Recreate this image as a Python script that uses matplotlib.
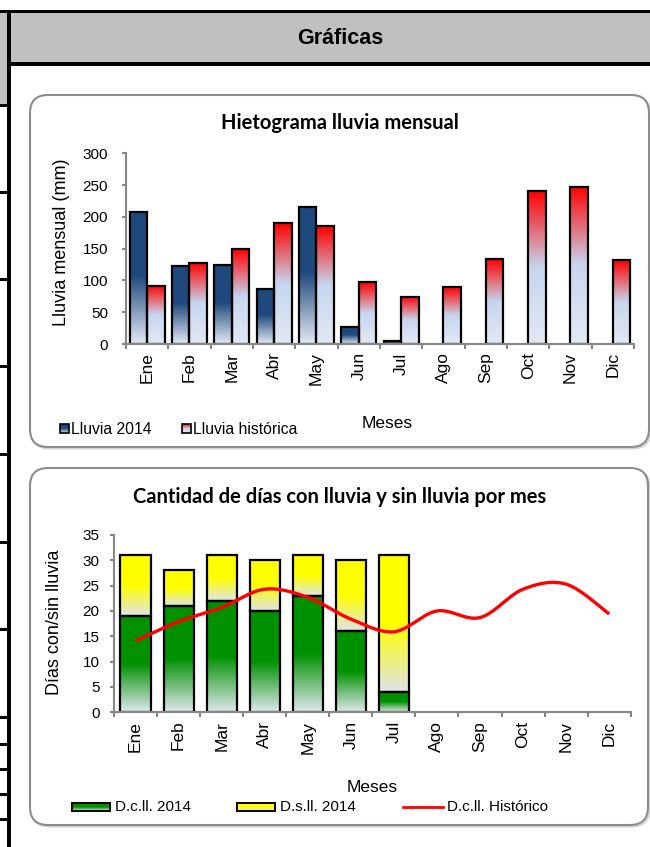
import numpy as np
import matplotlib
matplotlib.use("Agg")
import matplotlib.pyplot as plt
from matplotlib.patches import FancyBboxPatch, Rectangle
from matplotlib.colors import LinearSegmentedColormap

nan = np.nan
# ---------------- data ----------------
meses = ['Ene', 'Feb', 'Mar', 'Abr', 'May', 'Jun', 'Jul', 'Ago', 'Sep', 'Oct', 'Nov', 'Dic']
lluvia_2014 = [207, 123, 125, 87, 216, 27, 4, nan, nan, nan, nan, nan]
lluvia_historica = [92, 128, 149, 190, 185, 97, 74, 89, 133, 240, 247, 132]
dias_con_lluvia_2014 = [19, 21, 22, 20, 23, 16, 4, nan, nan, nan, nan, nan]
dias_sin_lluvia_2014 = [12, 7, 9, 10, 8, 14, 27, nan, nan, nan, nan, nan]
dias_con_lluvia_hist = [14.1, 17.9, 20.7, 24.3, 22.7, 18.4, 15.9, 20.0, 18.7, 24.3, 25.3, 19.4]

header_title = 'Gráficas'
title_top = 'Hietograma lluvia mensual'
title_bot = 'Cantidad de días con lluvia y sin lluvia por mes'

plt.rcParams['font.family'] = ['Liberation Sans', 'DejaVu Sans']

W, H = 650, 847
fig = plt.figure(figsize=(W / 100, H / 100), dpi=100)
fig.patch.set_facecolor('white')

# overlay in pixel coordinates
ov = fig.add_axes([0, 0, 1, 1], zorder=0)
ov.set_xlim(0, W)
ov.set_ylim(H, 0)
ov.axis('off')

# header frame
ov.add_patch(Rectangle((10.7, 13.3), W - 10.7, 48.4, facecolor='#c0c0c0', edgecolor='none'))
ov.add_patch(Rectangle((0, 13.3), 6.7, 94, facecolor='#c0c0c0', edgecolor='none'))
ov.add_patch(Rectangle((0, 10), W, 3.4, facecolor='black', edgecolor='none'))
ov.add_patch(Rectangle((10.7, 61.7), W - 10.7, 4, facecolor='black', edgecolor='none'))
ov.add_patch(Rectangle((6.7, 10), 4, H - 10, facecolor='black', edgecolor='none'))
for yy in [106, 193, 280, 367, 455, 543, 630, 718, 745, 770, 795, 820]:
    ov.add_patch(Rectangle((0, yy - 1.5), 7, 3, facecolor='black', edgecolor='none'))
ov.text(340, 38, header_title, ha='center', va='center', fontsize=15.5, fontweight='bold')

# rounded chart boxes
for (bx, by, bw, bh) in [(30, 95, 619, 352), (30, 468, 618, 357)]:
    ov.add_patch(FancyBboxPatch((bx + 1.5, by + 1.5), bw, bh,
                                boxstyle='round,pad=0,rounding_size=18',
                                facecolor='none', edgecolor='#d4d4d4', lw=1.5))
    ov.add_patch(FancyBboxPatch((bx, by), bw, bh,
                                boxstyle='round,pad=0,rounding_size=18',
                                facecolor='white', edgecolor='#8c8c8c', lw=1.5))

# colormaps
c2014 = LinearSegmentedColormap.from_list('c2014', [(0, '#e3eaf5'), (0.52, '#1f497d'), (1, '#1f497d')])
chist = LinearSegmentedColormap.from_list('chist', [(0, '#e2e9f4'), (0.5, '#c6d6ee'), (1, '#ff0000')])
cgreen = LinearSegmentedColormap.from_list('cgreen', [(0, '#e0e8ee'), (0.5, '#009100'), (1, '#009100')])
cyellow = LinearSegmentedColormap.from_list('cyellow', [(0, '#dfe4ea'), (0.5, '#ffff00'), (1, '#ffff00')])

grad = np.linspace(0, 1, 256).reshape(-1, 1)


def grad_fill(ax, patches, cmap):
    for p in patches:
        x0, y0, w, h = p.get_x(), p.get_y(), p.get_width(), p.get_height()
        if not (np.isfinite(h) and np.isfinite(y0)) or h <= 0:
            continue
        ax.imshow(grad, extent=(x0, x0 + w, y0, y0 + h), origin='lower', cmap=cmap,
                  aspect='auto', zorder=1, interpolation='bilinear')


def style_axes(ax, n, ymax, ystep, ypad):
    ax.set_facecolor('none')
    for s in ['top', 'right']:
        ax.spines[s].set_visible(False)
    for s in ['left', 'bottom']:
        ax.spines[s].set_color('#868686')
        ax.spines[s].set_linewidth(1.5)
    ax.set_xlim(-0.5, n - 0.5)
    ax.set_ylim(0, ymax)
    ax.set_yticks(np.arange(0, ymax + 1, ystep))
    ax.set_xticks(np.arange(n + 1) - 0.5)
    ax.set_xticklabels([])
    ax.set_xticks(np.arange(n), minor=True)
    ax.set_xticklabels(meses, minor=True, rotation=90, fontsize=12.5)
    ax.tick_params(axis='x', which='major', direction='out', length=3.5, width=1.5, color='#868686')
    ax.tick_params(axis='x', which='minor', length=0, pad=6)
    ax.tick_params(axis='y', direction='out', length=3, width=1.5, color='#868686', labelsize=11, pad=ypad)


def smooth_curve(xs, ys, n=40):
    xs = np.asarray(xs, float)
    ys = np.asarray(ys, float)
    px = np.concatenate([[xs[0]], xs, [xs[-1]]])
    py = np.concatenate([[ys[0]], ys, [ys[-1]]])
    t = np.linspace(0, 1, n)
    ox, oy = [], []
    for i in range(1, len(xs)):
        p0 = np.array([px[i - 1], py[i - 1]])
        p1 = np.array([px[i], py[i]])
        p2 = np.array([px[i + 1], py[i + 1]])
        p3 = np.array([px[i + 2], py[i + 2]])
        c1 = p1 + (p2 - p0) / 6
        c2 = p2 - (p3 - p1) / 6
        b = ((1 - t) ** 3)[:, None] * p1 + (3 * (1 - t) ** 2 * t)[:, None] * c1 + \
            (3 * (1 - t) * t ** 2)[:, None] * c2 + (t ** 3)[:, None] * p2
        ox.extend(b[:, 0])
        oy.extend(b[:, 1])
    return np.array(ox), np.array(oy)


x = np.arange(len(meses))

# ---------------- top chart ----------------
L, R, B, T = 126, 634, 344, 153.3
ax1 = fig.add_axes([L / W, 1 - B / H, (R - L) / W, (B - T) / H], zorder=2)
bw = 0.415
b1 = ax1.bar(x - bw / 2, lluvia_2014, bw, facecolor='none', edgecolor='black', lw=1.6, zorder=2)
b2 = ax1.bar(x + bw / 2, lluvia_historica, bw, facecolor='none', edgecolor='black', lw=1.6, zorder=2)
grad_fill(ax1, b1.patches, c2014)
grad_fill(ax1, b2.patches, chist)
style_axes(ax1, len(meses), 300, 50, 10)
ax1.set_ylabel('Lluvia mensual (mm)', fontsize=13)
ax1.yaxis.set_label_coords((62 - L) / (R - L), 0.535)
ax1.yaxis.label.set_va('center')
ax1.set_xlabel('Meses', fontsize=12.5)
ax1.xaxis.set_label_coords((387 - L) / (R - L), (B - 423) / (B - T))
ax1.xaxis.label.set_va('center')

ov.text(340, 123, title_top, ha='center', va='center', fontsize=14.5, fontweight='bold', family=['Lato', 'DejaVu Sans'])

# top legend
for (lx, cmap, lab) in [(60, c2014, 'Lluvia 2014'), (182, chist, 'Lluvia histórica')]:
    ov.imshow(grad, extent=(lx, lx + 9, 433, 424), origin='lower', cmap=cmap, aspect='auto', zorder=3)
    ov.add_patch(Rectangle((lx, 424), 9, 9, facecolor='none', edgecolor='black', lw=1.2, zorder=4))
    ov.text(lx + 11, 429, lab, ha='left', va='center', fontsize=11.3)

# ---------------- bottom chart ----------------
L2, R2, B2, T2 = 114, 630.7, 712.3, 535
ax2 = fig.add_axes([L2 / W, 1 - B2 / H, (R2 - L2) / W, (B2 - T2) / H], zorder=2)
bw2 = 0.7
g = ax2.bar(x, dias_con_lluvia_2014, bw2, facecolor='none', edgecolor='black', lw=1.6, zorder=2)
yb = ax2.bar(x, dias_sin_lluvia_2014, bw2, bottom=dias_con_lluvia_2014, facecolor='none',
             edgecolor='black', lw=1.6, zorder=2)
grad_fill(ax2, g.patches, cgreen)
grad_fill(ax2, yb.patches, cyellow)
sx, sy = smooth_curve(x, dias_con_lluvia_hist)
ax2.plot(sx, sy, color='#ff0000', lw=2.4, zorder=3, solid_capstyle='butt')
style_axes(ax2, len(meses), 35, 5, 7.5)
ax2.set_ylabel('Días con/sin lluvia', fontsize=13)
ax2.yaxis.set_label_coords((55 - L2) / (R2 - L2), 0.51)
ax2.yaxis.label.set_va('center')
ax2.set_xlabel('Meses', fontsize=12.5)
ax2.xaxis.set_label_coords((372 - L2) / (R2 - L2), (B2 - 787) / (B2 - T2))
ax2.xaxis.label.set_va('center')

ov.text(340, 497, title_bot, ha='center', va='center', fontsize=14.5, fontweight='bold', family=['Lato', 'DejaVu Sans'])

# bottom legend
for (lx, cmap, lab) in [(72, cgreen, 'D.c.ll. 2014'), (237, cyellow, 'D.s.ll. 2014')]:
    ov.imshow(grad, extent=(lx, lx + 38, 811, 803), origin='lower', cmap=cmap, aspect='auto', zorder=3)
    ov.add_patch(Rectangle((lx, 803), 38, 8, facecolor='none', edgecolor='black', lw=1.4, zorder=4))
    ov.text(lx + 43, 807, lab, ha='left', va='center', fontsize=11)
ov.plot([403, 443], [807, 807], color='#ff0000', lw=2, zorder=4)
ov.text(447, 807, 'D.c.ll. Histórico', ha='left', va='center', fontsize=11)

fig.savefig('out.png', dpi=100)
